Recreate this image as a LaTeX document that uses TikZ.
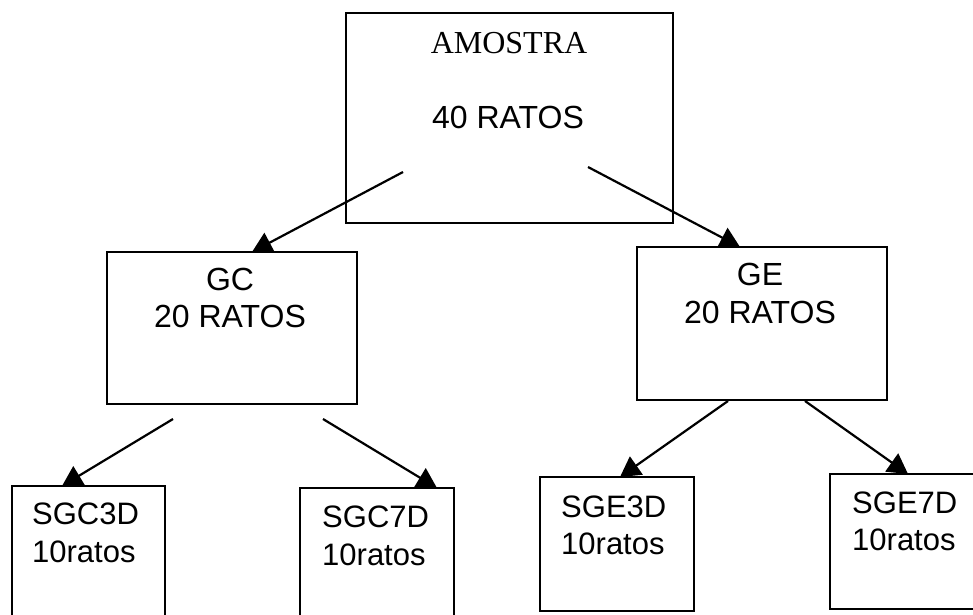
\documentclass[tikz,border=0pt]{standalone}
\usepackage{fontspec}
\setmainfont{Liberation Sans}
\newfontfamily\timesf{Liberation Serif}
\usetikzlibrary{arrows.meta,calc}
\begin{document}
\begin{tikzpicture}[x=1pt,y=-1pt,
  boxnode/.style={draw,line width=2.2pt,inner sep=0pt,outer sep=0pt,anchor=north west},
  conn/.style={line width=2.2pt,-{Triangle[length=20pt,width=22pt]}},
  bigtxt/.style={anchor=base,inner sep=0pt,font=\fontsize{32}{38}\selectfont},
  midtxt/.style={anchor=base,inner sep=0pt,font=\fontsize{32}{38}\selectfont},
  smalltxt/.style={anchor=base west,inner sep=0pt,font=\fontsize{31}{36}\selectfont}]
\useasboundingbox (0,0) rectangle (973,614);
\clip (0,0) rectangle (973,614);
% boxes
\node[boxnode,minimum width=327pt,minimum height=210pt] (top) at (346,13) {};
\node[boxnode,minimum width=250pt,minimum height=152pt] (gc) at (107,252) {};
\node[boxnode,minimum width=250pt,minimum height=153pt] (ge) at (637,247) {};
\node[boxnode,minimum width=153pt,minimum height=160pt] (sgc3) at (12,486) {};
\node[boxnode,minimum width=154pt,minimum height=160pt] (sgc7) at (300,488) {};
\node[boxnode,minimum width=154pt,minimum height=134pt] (sge3) at (540,477) {};
\node[boxnode,minimum width=170pt,minimum height=135pt] (sge7) at (830,474) {};
% texts
\node[bigtxt,font=\timesf\fontsize{32}{38}\selectfont] (t1) at (509,53) {AMOSTRA};
\node[bigtxt] (t2) at (508,128) {40 RATOS};
\node[midtxt] (t3) at (230,290) {GC};
\node[midtxt] (t4) at (230,327) {20 RATOS};
\node[midtxt] (t5) at (760,285) {GE};
\node[midtxt] (t6) at (760,323) {20 RATOS};
\node[smalltxt] (t7) at (32,524) {SGC3D};
\node[smalltxt] (t8) at (32,562) {10ratos};
\node[smalltxt] (t9) at (322,527) {SGC7D};
\node[smalltxt] (t10) at (322,565) {10ratos};
\node[smalltxt] (t11) at (561,517) {SGE3D};
\node[smalltxt] (t12) at (561,554) {10ratos};
\node[smalltxt] (t13) at (852,513) {SGE7D};
\node[smalltxt] (t14) at (852,550) {10ratos};
% arrow start points
\coordinate (a1) at (403,172);
\coordinate (a2) at (588,167);
\coordinate (b1) at (173,419);
\coordinate (b2) at (323,419);
\coordinate (c1) at (728,401);
\coordinate (c2) at (805,401);
% connectors
\draw[conn] (a1) -- ($(gc.north west)+(145,0)$);
\draw[conn] (a2) -- ($(ge.north west)+(103,0)$);
\draw[conn] (b1) -- ($(sgc3.north west)+(50,0)$);
\draw[conn] (b2) -- ($(sgc7.north west)+(137,0)$);
\draw[conn] (c1) -- ($(sge3.north west)+(80,0)$);
\draw[conn] (c2) -- ($(sge7.north west)+(78,0)$);
\end{tikzpicture}
\end{document}
